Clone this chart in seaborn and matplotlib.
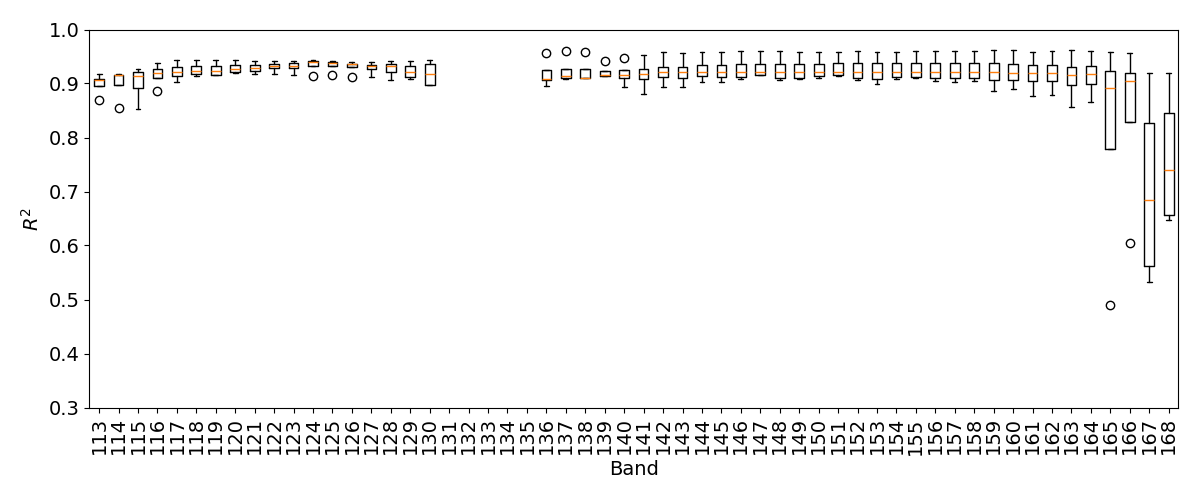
import numpy as np
import matplotlib
matplotlib.use("Agg")
import matplotlib.pyplot as plt
import seaborn as sns

# box statistics, one entry per band that has data
bands = list(range(113, 131)) + list(range(136, 169))
whisker_high = [0.917, 0.917, 0.927, 0.938, 0.943, 0.944, 0.944, 0.944, 0.941, 0.941,
                0.941, 0.943, 0.941, 0.940, 0.940, 0.941, 0.941, 0.944,
                0.925, 0.927, 0.927, 0.924, 0.925, 0.953, 0.958, 0.957, 0.959, 0.959,
                0.961, 0.960, 0.961, 0.959, 0.959, 0.959, 0.961, 0.959, 0.959, 0.960,
                0.960, 0.960, 0.960, 0.962, 0.962, 0.959, 0.960, 0.962, 0.960, 0.959,
                0.956, 0.919, 0.919]
q3 = [0.908, 0.916, 0.922, 0.926, 0.930, 0.933, 0.933, 0.935, 0.935, 0.937,
      0.938, 0.941, 0.940, 0.937, 0.935, 0.937, 0.933, 0.937,
      0.925, 0.927, 0.927, 0.924, 0.925, 0.927, 0.930, 0.930, 0.934, 0.934,
      0.936, 0.937, 0.936, 0.936, 0.936, 0.938, 0.938, 0.938, 0.938, 0.938,
      0.938, 0.938, 0.938, 0.938, 0.936, 0.934, 0.934, 0.930, 0.932, 0.924,
      0.920, 0.826, 0.846]
median = [0.906, 0.915, 0.913, 0.920, 0.921, 0.923, 0.923, 0.926, 0.929, 0.933,
          0.933, 0.939, 0.938, 0.936, 0.932, 0.932, 0.922, 0.917,
          0.909, 0.913, 0.911, 0.916, 0.916, 0.918, 0.921, 0.921, 0.921, 0.921,
          0.921, 0.921, 0.921, 0.921, 0.921, 0.921, 0.921, 0.921, 0.921, 0.921,
          0.921, 0.921, 0.921, 0.921, 0.920, 0.920, 0.920, 0.916, 0.918, 0.892,
          0.905, 0.684, 0.739]
q1 = [0.896, 0.898, 0.892, 0.911, 0.914, 0.918, 0.916, 0.921, 0.923, 0.928,
      0.928, 0.932, 0.933, 0.930, 0.926, 0.921, 0.912, 0.898,
      0.907, 0.910, 0.910, 0.914, 0.911, 0.909, 0.912, 0.910, 0.913, 0.912,
      0.912, 0.916, 0.910, 0.910, 0.914, 0.915, 0.910, 0.909, 0.912, 0.912,
      0.910, 0.910, 0.910, 0.907, 0.907, 0.905, 0.905, 0.898, 0.900, 0.778,
      0.828, 0.562, 0.656]
whisker_low = [0.896, 0.898, 0.853, 0.911, 0.902, 0.913, 0.915, 0.920, 0.918, 0.918,
               0.916, 0.932, 0.933, 0.930, 0.912, 0.907, 0.908, 0.898,
               0.895, 0.909, 0.910, 0.913, 0.894, 0.880, 0.894, 0.894, 0.903, 0.903,
               0.908, 0.915, 0.907, 0.908, 0.911, 0.914, 0.907, 0.900, 0.909, 0.911,
               0.905, 0.903, 0.905, 0.887, 0.889, 0.877, 0.879, 0.856, 0.865, 0.778,
               0.828, 0.532, 0.647]
outliers = {113: [0.870], 114: [0.855], 116: [0.887], 124: [0.913], 125: [0.916],
            126: [0.912], 136: [0.957], 137: [0.961], 138: [0.959], 139: [0.941],
            140: [0.948], 165: [0.490], 166: [0.605]}
all_bands = list(range(113, 169))

sns.set_style("ticks", {"axes.edgecolor": "black", "xtick.color": "black",
                        "ytick.color": "black", "text.color": "black",
                        "axes.labelcolor": "black"})
plt.rcParams["font.family"] = ["DejaVu Sans"]
plt.rcParams["font.size"] = 14
plt.rcParams["xtick.major.size"] = 3.5
plt.rcParams["ytick.major.size"] = 3.5

stats = []
for i, b in enumerate(bands):
    stats.append(dict(med=median[i], q1=q1[i], q3=q3[i],
                      whislo=whisker_low[i], whishi=whisker_high[i],
                      fliers=outliers.get(b, [])))

positions = [b - all_bands[0] + 1 for b in bands]

fig, ax = plt.subplots(figsize=(12, 5), dpi=100)
ax.bxp(stats, positions=positions, widths=0.5,
       medianprops=dict(color="#ff7f0e"),
       flierprops=dict(marker="o", markerfacecolor="none", markeredgecolor="black"))

ax.set_xticks(range(1, len(all_bands) + 1))
ax.set_xticklabels([str(b) for b in all_bands], rotation=90)
ax.set_xlim(0.5, len(all_bands) + 0.5)
ax.set_ylim(0.3, 1.0)
ax.set_xlabel("Band")
ax.set_ylabel("$R^2$")
plt.subplots_adjust(left=0.0745, right=0.982, top=0.941, bottom=0.185)
plt.savefig("out.png")
